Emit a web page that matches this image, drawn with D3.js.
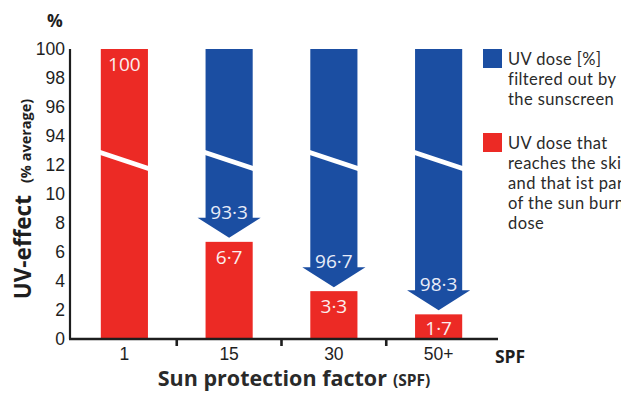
<!DOCTYPE html>
<html>
<head>
<meta charset="utf-8">
<script src="https://cdn.jsdelivr.net/npm/d3@7/dist/d3.min.js"></script>
<style>
  html, body { margin: 0; padding: 0; background: #fff; overflow: hidden; }
  svg { display: block; font-family: "Open Sans", "Noto Sans", sans-serif; }
  .legend-text { font-family: Lato, "Open Sans", sans-serif; }
</style>
</head>
<body>
<svg id="chart" width="621" height="394"></svg>
<script>
// Sunscreen effect by sun protection factor
const categories = ["1", "15", "30", "50+"];
const reachesSkin = [100, 6.7, 3.3, 1.7];     // UV dose reaching the skin (%)
const filteredOut = [null, 93.3, 96.7, 98.3]; // UV dose filtered out by the sunscreen (%)
const yTicks = [0, 2, 4, 6, 8, 10, 12, 94, 96, 98, 100];
const valueLabels = ["100", "6·7", "3·3", "1·7"];
const filteredLabels = [null, "93·3", "96·7", "98·3"];
const legendItems = [
  { key: "blue", lines: ["UV dose [%]", "filtered out by", "the sunscreen"] },
  { key: "red", lines: ["UV dose that", "reaches the skin", "and that ist part", "of the sun burn", "dose"] }
];

const RED = "#ec2a25", BLUE = "#1b4ea2", INK = "#1e1e1e";
const svg = d3.select("#chart");

// Broken value axis: 0–12 and 94–100 share the same step, with one step for the break
const y0 = 339, step = 29;
const y = d3.scaleLinear()
  .domain([0, 12, 94, 100])
  .range([y0, y0 - 6 * step, y0 - 7 * step, y0 - 10 * step]);

const x = d3.scaleBand().domain(categories).range([72, 491]).paddingInner(0.55).paddingOuter(0.275);
const bw = x.bandwidth();

// filtered-out arrows (blue)
const head = 20, over = 8;
categories.forEach((c, i) => {
  if (filteredOut[i] == null) return;
  const x0 = x(c), x1 = x0 + bw, cx = x0 + bw / 2;
  const tip = y(reachesSkin[i]) - 4;
  const neck = tip - head;
  const top = y(reachesSkin[i] + filteredOut[i]);
  svg.append("path")
    .attr("fill", BLUE)
    .attr("d", `M${x0},${top}H${x1}V${neck}H${x1 + over}L${cx},${tip}L${x0 - over},${neck}H${x0}Z`);
  svg.append("text")
    .attr("x", cx).attr("y", neck + 1)
    .attr("text-anchor", "middle")
    .attr("fill", "#e8ecf8")
    .attr("font-size", 19)
    .text(filteredLabels[i]);
});

// reaching-the-skin bars (red)
svg.selectAll("rect.skin").data(categories).join("rect")
  .attr("class", "skin")
  .attr("x", d => x(d)).attr("width", bw)
  .attr("y", (d, i) => y(reachesSkin[i]))
  .attr("height", (d, i) => y0 - y(reachesSkin[i]))
  .attr("fill", RED);

svg.selectAll("text.skinval").data(categories).join("text")
  .attr("class", "skinval")
  .attr("x", d => x(d) + bw / 2)
  .attr("y", (d, i) => Math.min(y(reachesSkin[i]) + 22, y0 - 4))
  .attr("text-anchor", "middle")
  .attr("fill", "#fbeeee")
  .attr("font-size", 19)
  .text((d, i) => valueLabels[i]);

// axis-break slashes across the tall bars
const yb = y(12);
categories.forEach((c, i) => {
  if (reachesSkin[i] + (filteredOut[i] || 0) < 94) return;
  svg.append("line")
    .attr("x1", x(c) - 2).attr("y1", yb - 13)
    .attr("x2", x(c) + bw + 2).attr("y2", yb + 4)
    .attr("stroke", "#fff").attr("stroke-width", 5);
});

// y axis
const yAxis = svg.append("g")
  .attr("transform", "translate(70,0)")
  .call(d3.axisLeft(y).tickValues(yTicks).tickSize(0).tickPadding(5));
yAxis.select(".domain").attr("stroke", INK).attr("stroke-width", 2.2).attr("d", `M0,${y(100)}V${y0}`);
yAxis.selectAll("text").attr("font-size", 17.5).attr("fill", INK).attr("font-family", "inherit");

// x axis
const xAxis = svg.append("g")
  .attr("transform", `translate(0,${y0})`)
  .call(d3.axisBottom(x).tickSize(0).tickPadding(9));
xAxis.select(".domain").attr("stroke", INK).attr("stroke-width", 2.6).attr("d", "M69,0H498");
xAxis.selectAll("text").attr("font-size", 17.5).attr("fill", INK).attr("font-family", "inherit");
// separators between categories
categories.slice(1).forEach(c => {
  const sx = x(c) - x.step() * x.paddingInner() / 2;
  xAxis.append("line").attr("x1", sx).attr("x2", sx).attr("y1", 0).attr("y2", 7)
    .attr("stroke", INK).attr("stroke-width", 2.6);
});
svg.append("text").attr("x", 510).attr("y", 363).attr("text-anchor", "middle")
  .attr("font-size", 17.5).attr("font-weight", "bold").attr("fill", INK).text("SPF");

// axis titles
svg.append("text").attr("x", 55).attr("y", 27).attr("text-anchor", "middle")
  .attr("font-size", 17.5).attr("font-weight", "bold").attr("fill", INK).text("%");

const yTitle = svg.append("text")
  .attr("transform", "translate(31,199) rotate(-90)")
  .attr("text-anchor", "middle").attr("fill", INK);
yTitle.append("tspan").attr("font-size", 22.5).attr("font-weight", "bold").text("UV-effect");
yTitle.append("tspan").attr("font-size", 14.5).attr("font-weight", "bold").attr("dx", 12).text("(% average)");

const xTitle = svg.append("text").attr("x", 294).attr("y", 386)
  .attr("text-anchor", "middle").attr("fill", "#2a2a2a");
xTitle.append("tspan").attr("font-size", 21.5).attr("font-weight", "bold").text("Sun protection factor");
xTitle.append("tspan").attr("font-size", 15.5).attr("font-weight", "bold").attr("dx", 6).text("(SPF)");

// legend
const legendColor = { blue: BLUE, red: RED };
let ly = 49;
legendItems.forEach(item => {
  svg.append("rect").attr("x", 483).attr("y", ly).attr("width", 19).attr("height", 19)
    .attr("fill", legendColor[item.key]);
  item.lines.forEach((line, j) => {
    svg.append("text").attr("class", "legend-text")
      .attr("x", 508).attr("y", ly + 16 + j * 20)
      .attr("font-size", 16.5).attr("letter-spacing", 0.4)
      .attr("fill", "#2a2a2a").text(line);
  });
  ly += 84;
});
</script>
</body>
</html>
